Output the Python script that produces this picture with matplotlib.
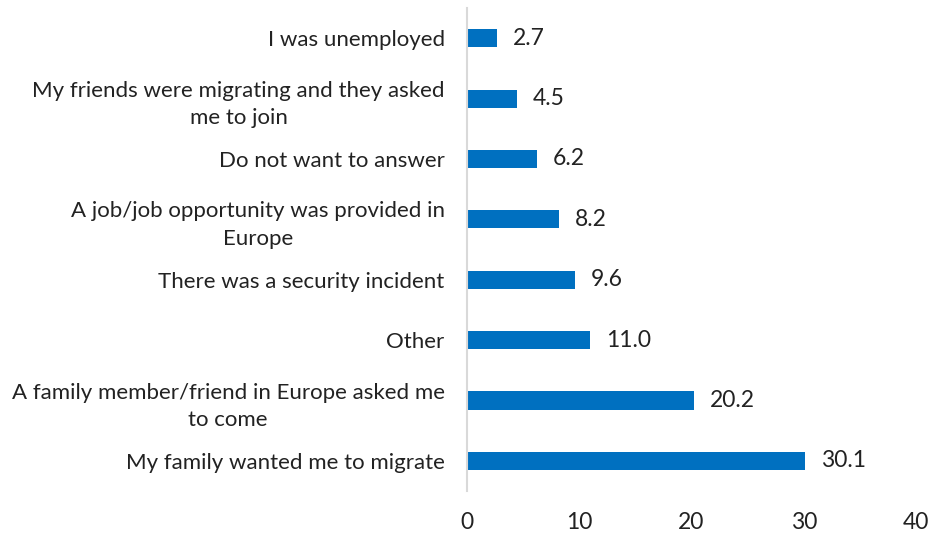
import matplotlib.pyplot as plt

# reasons for migrating (%)
labels = [
    "I was unemployed",
    "My friends were migrating and they asked\nme to join",
    "Do not want to answer",
    "A job/job opportunity was provided in\nEurope",
    "There was a security incident",
    "Other",
    "A family member/friend in Europe asked me\nto come",
    "My family wanted me to migrate",
]
values = [2.7, 4.5, 6.2, 8.2, 9.6, 11.0, 20.2, 30.1]
xticks = [0, 10, 20, 30, 40]

plt.rcParams["font.family"] = ["Lato", "DejaVu Sans"]

fig = plt.figure(figsize=(9.32, 5.35), dpi=100)
ax = fig.add_axes([0.501, 0.082, 0.482, 0.903])

pos = list(range(len(labels)))
ax.barh(pos, values, height=0.3, color="#0070C0")

for p, v in zip(pos, values):
    ax.text(v + 1.4, p, f"{v:.1f}", va="center", ha="left", fontsize=16.5, color="#222222")

ax.set_yticks(pos)
ax.set_yticklabels(labels, fontsize=16, color="#222222", linespacing=1.45,
                   multialignment="center")
ax.set_ylim(len(labels) - 0.5, -0.5)
ax.set_xlim(0, 40)
ax.set_xticks(xticks)
ax.set_xticklabels([str(t) for t in xticks], fontsize=16.5, color="#222222")
ax.tick_params(axis="y", length=0, pad=16)
ax.tick_params(axis="x", length=0, pad=15)

for side in ["top", "right", "bottom"]:
    ax.spines[side].set_visible(False)
ax.spines["left"].set_color("#D9D9D9")
ax.spines["left"].set_linewidth(1.5)

plt.savefig("out.png", dpi=100)
